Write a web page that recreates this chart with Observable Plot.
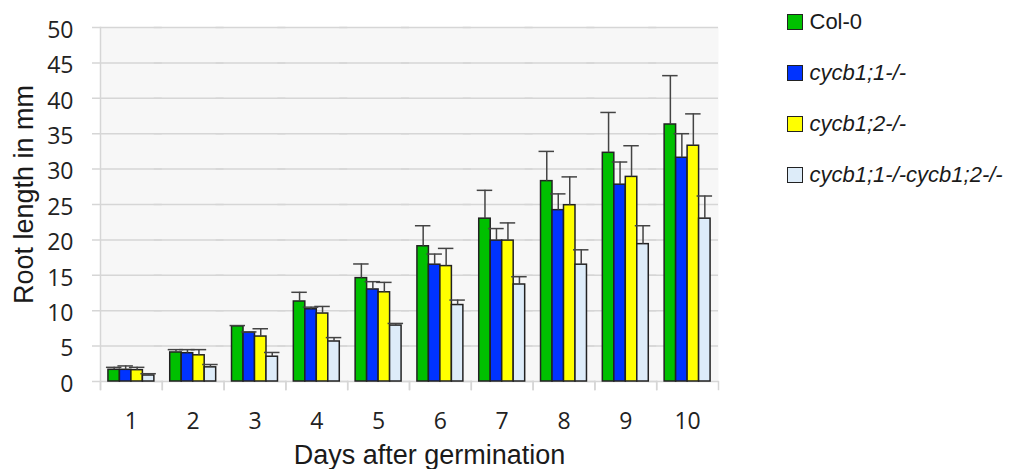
<!DOCTYPE html>
<html>
<head>
<meta charset="utf-8">
<script src="https://cdn.jsdelivr.net/npm/d3@7"></script>
<script src="https://cdn.jsdelivr.net/npm/@observablehq/plot@0.6"></script>
<style>
  body { margin: 0; background: #fff; }
  #wrap { position: relative; width: 1011px; height: 469px; overflow: hidden; }
  #legend { position: absolute; left: 787px; top: -3px; font-family: "Liberation Sans", Arial, sans-serif; font-size: 22px; color: #1a1a1a; }
  .item { display: flex; align-items: center; height: 50.8px; white-space: nowrap; }
  .sw { width: 14px; height: 14px; border: 1.5px solid #222; margin-right: 6.5px; flex: none; }
</style>
</head>
<body>
<div id="wrap"><div id="legend"></div></div>
<script>
// ---- data ----
const days = [1, 2, 3, 4, 5, 6, 7, 8, 9, 10];
const series = ["Col-0", "cycb1;1-/-", "cycb1;2-/-", "cycb1;1-/-cycb1;2-/-"];
const italicSeries = [false, true, true, true];
const colors = ["#00c000", "#0033ff", "#ffff00", "#ddecf9"];
const yTicks = [0, 5, 10, 15, 20, 25, 30, 35, 40, 45, 50];

const col0Mean = [1.65, 4.1, 7.8, 11.3, 14.6, 19.1, 23.0, 28.3, 32.3, 36.3];
const col0Err  = [0.35, 0.4, 0.1, 1.3, 2.0, 2.9, 4.0, 4.2, 5.7, 6.9];
const b11Mean  = [1.65, 4.0, 6.9, 10.2, 13.0, 16.5, 19.9, 24.2, 27.8, 31.6];
const b11Err   = [0.55, 0.5, 0.1, 0.3, 1.1, 1.5, 1.7, 2.3, 3.2, 3.4];
const b12Mean  = [1.6, 3.7, 6.35, 9.6, 12.6, 16.3, 19.9, 24.9, 28.9, 33.3];
const b12Err   = [0.4, 0.8, 1.1, 1.0, 1.4, 2.5, 2.5, 4.0, 4.4, 4.5];
const dblMean  = [0.85, 2.0, 3.5, 5.65, 7.9, 10.8, 13.7, 16.5, 19.4, 23.0];
const dblErr   = [0.25, 0.4, 0.6, 0.55, 0.3, 0.7, 1.1, 2.1, 2.6, 3.2];

const means = [col0Mean, b11Mean, b12Mean, dblMean];
const errs = [col0Err, b11Err, b12Err, dblErr];

const table = [];
days.forEach((day, i) => {
  series.forEach((s, j) => {
    table.push({day, series: s, mean: means[j][i], err: errs[j][i]});
  });
});

const gridColor = "#d6d6d6";
const titleFont = "'Liberation Sans', Arial, sans-serif";

const chart = Plot.plot({
  width: 1011,
  height: 469,
  marginLeft: 100,
  marginRight: 293,
  marginTop: 27,
  marginBottom: 88,
  style: { fontFamily: "'Open Sans', sans-serif", fontSize: "23px", color: "#222", background: "transparent", overflow: "visible" },
  fx: { domain: days, padding: 0, round: false, label: null },
  x: { domain: series, paddingInner: 0, paddingOuter: 0.69, round: false, axis: null },
  y: { domain: [0, 50], label: null },
  color: { domain: series, range: colors },
  marks: [
    Plot.frame({ facet: "super", fill: "#f7f7f7", stroke: null }),
    Plot.ruleY(yTicks, { stroke: gridColor, strokeWidth: 1.5, insetLeft: -8 }),
    Plot.frame({ facet: "super", anchor: "left", stroke: gridColor, strokeWidth: 1.5, insetBottom: -8 }),
    Plot.frame({ anchor: "left", stroke: gridColor, strokeWidth: 1.5, insetTop: 354, insetBottom: -8 }),
    Plot.frame({ anchor: "right", stroke: gridColor, strokeWidth: 1.5, insetTop: 354, insetBottom: -8 }),
    Plot.barY(table, { fx: "day", x: "series", y: "mean", fill: "series", stroke: "#222", strokeWidth: 1.5 }),
    Plot.ruleX(table, { fx: "day", x: "series", y1: "mean", y2: d => d.mean + d.err, stroke: "#444", strokeWidth: 1.5 }),
    Plot.tickY(table, { fx: "day", x: "series", y: d => d.mean + d.err, stroke: "#444", strokeWidth: 1.5, insetLeft: -2, insetRight: -2 }),
    Plot.axisY(yTicks, { anchor: "left", tickSize: 0, tickPadding: 27, label: null, dy: 3 }),
    Plot.axisFx({ anchor: "bottom", tickSize: 0, tickPadding: 31, label: null }),
    Plot.text(["Days after germination"], { facet: "super", frameAnchor: "bottom", textAnchor: "middle", lineAnchor: "middle", text: d => d, dx: 20, dy: 74, fontFamily: titleFont, fontSize: 27, fill: "#1a1a1a" }),
    Plot.text(["Root length in mm"], { facet: "super", frameAnchor: "left", textAnchor: "middle", lineAnchor: "middle", text: d => d, rotate: -90, dx: -76, dy: -10, fontFamily: titleFont, fontSize: 27, fill: "#1a1a1a" })
  ]
});

const wrap = document.getElementById("wrap");
wrap.insertBefore(chart, wrap.firstChild);

const legend = document.getElementById("legend");
series.forEach((s, j) => {
  const item = document.createElement("div");
  item.className = "item";
  const sw = document.createElement("span");
  sw.className = "sw";
  sw.style.background = colors[j];
  const label = document.createElement("span");
  label.textContent = s;
  if (italicSeries[j]) label.style.fontStyle = "italic";
  item.appendChild(sw);
  item.appendChild(label);
  legend.appendChild(item);
});
</script>
</body>
</html>
